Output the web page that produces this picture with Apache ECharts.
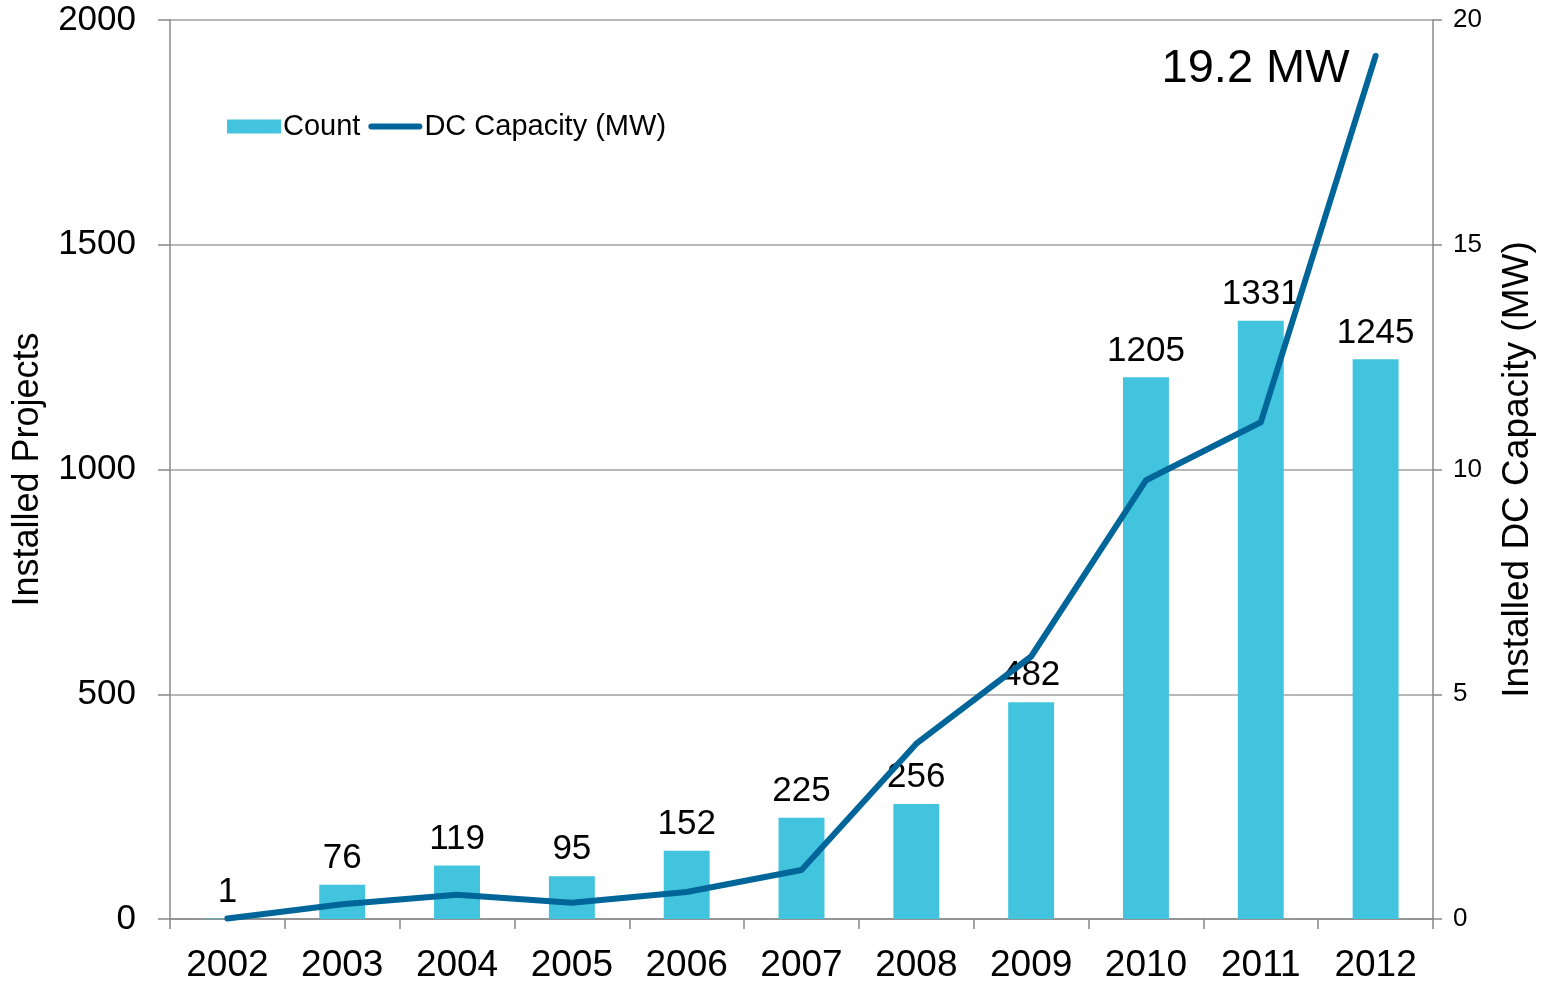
<!DOCTYPE html>
<html>
<head>
<meta charset="utf-8">
<script src="https://cdn.jsdelivr.net/npm/echarts@6/dist/echarts.min.js"></script>
<style>
html,body{margin:0;padding:0;background:#fff;}
#chart{width:1546px;height:984px;}
</style>
</head>
<body>
<div id="chart"></div>
<script>
const years = ['2002','2003','2004','2005','2006','2007','2008','2009','2010','2011','2012'];
const countValues = [1, 76, 119, 95, 152, 225, 256, 482, 1205, 1331, 1245];
const capacityValues = [0.01, 0.33, 0.54, 0.36, 0.6, 1.09, 3.9, 5.84, 9.76, 11.05, 19.2];
const leftTicks = [0, 500, 1000, 1500, 2000];
const rightTicks = [0, 5, 10, 15, 20];
const peakLabel = '19.2 MW';

const FONT = '"Liberation Sans", Arial, sans-serif';
const chart = echarts.init(document.getElementById('chart'));
const lastIdx = capacityValues.length - 1;

chart.setOption({
  animation: false,
  backgroundColor: '#fff',
  textStyle: { fontFamily: FONT },
  grid: { left: 170, right: 113, top: 20, bottom: 64, containLabel: false },
  legend: {
    left: 222, top: 107,
    itemWidth: 54, itemHeight: 14, itemGap: 8,
    textStyle: { fontSize: 29, color: '#000', fontFamily: FONT, padding: [0, 0, 0, -3] },
    data: [
      { name: 'Count', icon: 'rect' },
      { name: 'DC Capacity (MW)', icon: 'path://M3,0 L51,0 A3,3 0 0 1 51,6 L3,6 A3,3 0 0 1 3,0 Z', itemStyle: { color: '#006699' } }
    ]
  },
  xAxis: {
    type: 'category',
    data: years,
    boundaryGap: true,
    axisLine: { lineStyle: { color: '#888', width: 1.5 } },
    axisTick: { show: true, length: 10, alignWithLabel: false, lineStyle: { color: '#888', width: 1.5 } },
    axisLabel: { fontSize: 37, color: '#000', margin: 28, fontFamily: FONT }
  },
  yAxis: [
    {
      type: 'value', min: 0, max: 2000, interval: 500,
      name: 'Installed Projects', nameLocation: 'middle', nameGap: 124,
      nameTextStyle: { fontSize: 36, color: '#000', fontFamily: FONT },
      axisLine: { show: true, lineStyle: { color: '#888', width: 1.5 } },
      axisTick: { show: true, length: 12, lineStyle: { color: '#888', width: 1.5 } },
      axisLabel: { fontSize: 35, color: '#000', margin: 34, fontFamily: FONT,
        formatter: v => leftTicks.includes(v) ? String(v) : '' },
      splitLine: { show: true, lineStyle: { color: '#A0A0A0', width: 1.5 } }
    },
    {
      type: 'value', min: 0, max: 20, interval: 5,
      name: 'Installed DC Capacity (MW)', nameLocation: 'middle', nameGap: 66,
      nameTextStyle: { fontSize: 37, color: '#000', fontFamily: FONT },
      axisLine: { show: true, lineStyle: { color: '#888', width: 1.5 } },
      axisTick: { show: true, length: 9, lineStyle: { color: '#888', width: 1.5 } },
      axisLabel: { fontSize: 26, color: '#000', margin: 20, fontFamily: FONT,
        formatter: v => rightTicks.includes(v) ? String(v) : '' },
      splitLine: { show: false }
    }
  ],
  series: [
    {
      name: 'Count', type: 'bar', yAxisIndex: 0,
      data: countValues,
      barWidth: '40%',
      itemStyle: { color: '#42C3DE' },
      label: { show: true, position: 'top', distance: 9, fontSize: 35, color: '#000', fontFamily: FONT }
    },
    {
      name: 'DC Capacity (MW)', type: 'line', yAxisIndex: 1,
      data: capacityValues,
      symbol: 'none',
      lineStyle: { color: '#006699', width: 6, cap: 'round', join: 'round' },
      itemStyle: { color: '#006699' },
      z: 5,
      markPoint: {
        symbol: 'circle', symbolSize: 0,
        data: [{ coord: [years[lastIdx], capacityValues[lastIdx]], value: peakLabel }],
        label: { show: true, formatter: peakLabel, position: 'left', distance: 26, offset: [0, 13], fontSize: 47, color: '#000', fontFamily: FONT }
      }
    }
  ]
});
</script>
</body>
</html>
